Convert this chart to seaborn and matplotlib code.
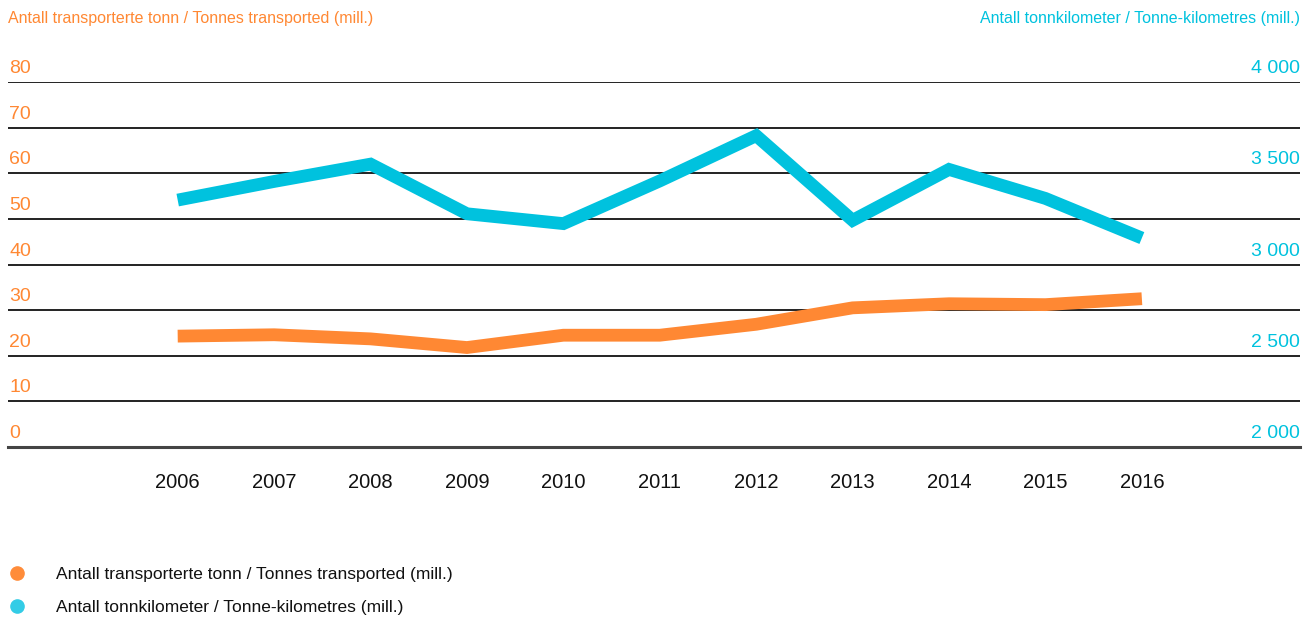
import numpy as np
import pandas as pd
import matplotlib
matplotlib.use("Agg")
import matplotlib.pyplot as plt
import matplotlib.transforms as mtransforms
from matplotlib.lines import Line2D
import seaborn as sns

years = [2006, 2007, 2008, 2009, 2010, 2011, 2012, 2013, 2014, 2015, 2016]
tonnes = [24.3, 24.6, 23.7, 21.8, 24.5, 24.5, 26.9, 30.5, 31.4, 31.2, 32.5]
tonne_km = [3353, 3455, 3550, 3278, 3224, 3458, 3706, 3242, 3521, 3362, 3145]

left_ticks = [0, 10, 20, 30, 40, 50, 60, 70, 80]
right_ticks = [2000, 2500, 3000, 3500, 4000]
right_labels = ["2 000", "2 500", "3 000", "3 500", "4 000"]

label_t = "Antall transporterte tonn / Tonnes transported (mill.)"
label_km = "Antall tonnkilometer / Tonne-kilometres (mill.)"

orange = "#FF8833"
cyan = "#00C2DE"

df = pd.DataFrame({"Year": years, "Tonnes": tonnes, "TonneKm": tonne_km})

sns.set_style("white")
plt.rcParams["font.family"] = ["Liberation Sans", "DejaVu Sans"]

fig = plt.figure(figsize=(13.09, 6.18), dpi=100)
ax = fig.add_axes([8 / 1309, 1 - 447 / 618, 1292 / 1309, 365 / 618])
ax2 = ax.twinx()

sns.lineplot(data=df, x="Year", y="Tonnes", ax=ax, color=orange, linewidth=9.2,
             solid_capstyle="butt", solid_joinstyle="miter", zorder=3)
sns.lineplot(data=df, x="Year", y="TonneKm", ax=ax2, color=cyan, linewidth=9.2,
             solid_capstyle="butt", solid_joinstyle="miter", zorder=3)

ax.set_xlim(2004.24, 2017.64)
ax.set_ylim(0, 80)
ax2.set_ylim(2000, 4000)

# gridlines
for v in left_ticks[1:]:
    ax.axhline(v, color="#111111", lw=1.3, zorder=1)

for a in (ax, ax2):
    for s in a.spines.values():
        s.set_visible(False)
    a.set_ylabel("")
    a.set_xlabel("")
    a.set_yticks([])
ax.spines["bottom"].set_visible(True)
ax.spines["bottom"].set_color("#444444")
ax.spines["bottom"].set_linewidth(2.2)

ax.set_xticks(years)
ax.set_xticklabels([str(y) for y in years], fontsize=14.5, color="#111111")
ax.tick_params(axis="x", length=0, pad=19)

# tick labels sitting above gridlines
trans_l = mtransforms.blended_transform_factory(ax.transAxes, ax.transData)
off = mtransforms.ScaledTranslation(0, 5 / 100, fig.dpi_scale_trans)
for v in left_ticks:
    ax.text(0.001, v, str(v), transform=trans_l + off, ha="left", va="bottom",
            fontsize=14, color=orange)
trans_r = mtransforms.blended_transform_factory(ax2.transAxes, ax2.transData)
for v, lab in zip(right_ticks, right_labels):
    ax2.text(1.0, v, lab, transform=trans_r + off, ha="right", va="bottom",
             fontsize=14, color=cyan)

fig.text(8 / 1309, 1 - 18 / 618, label_t, ha="left", va="center", fontsize=11.5, color=orange)
fig.text(1300 / 1309, 1 - 18 / 618, label_km, ha="right", va="center", fontsize=11.5, color=cyan)

handles = [
    Line2D([], [], marker="o", linestyle="", markersize=9.5, color="#FF8C3A"),
    Line2D([], [], marker="o", linestyle="", markersize=9.5, color="#33CCE6"),
]
fig.legend(handles, [label_t, label_km], loc="upper left",
           bbox_to_anchor=(10 / 1309, 1 - 567 / 618), frameon=False,
           fontsize=12.5, handlelength=0.8, handletextpad=1.85, labelspacing=1.0,
           borderpad=0, borderaxespad=0, labelcolor="#111111")

fig.savefig("out.png", dpi=100)
